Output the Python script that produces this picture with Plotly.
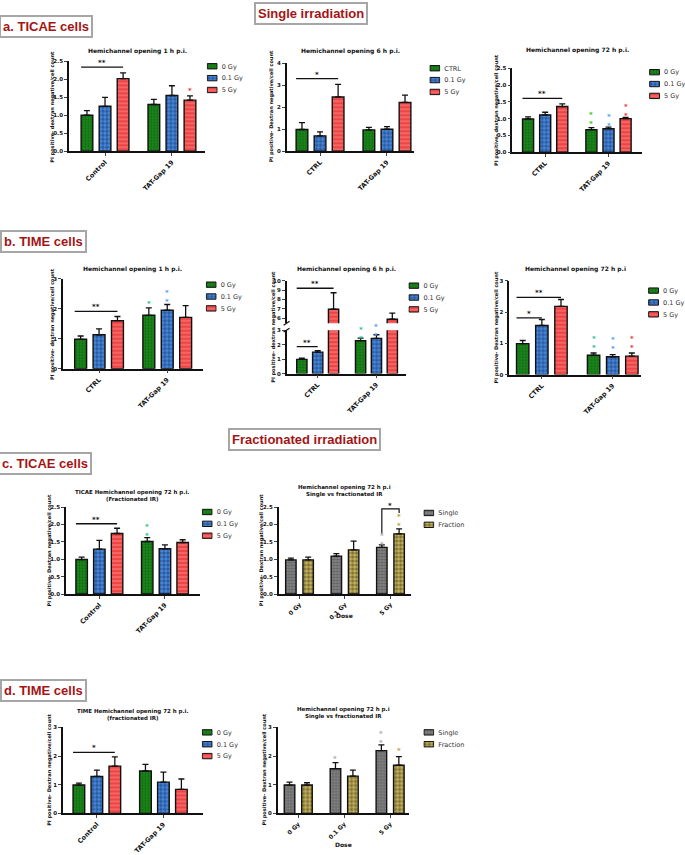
import plotly.graph_objects as go

W, H = 685, 855
FONT = "DejaVu Sans"

# ---- data -------------------------------------------------------------
dose_names = ["0 Gy", "0.1 Gy", "5 Gy"]
dose_names_ctrl = ["CTRL", "0.1 Gy", "5 Gy"]
ir_names = ["Single", "Fraction"]
groups_control = ["Control", "TAT-Gap 19"]
groups_ctrl = ["CTRL", "TAT-Gap 19"]
dose_groups = ["0 Gy", "0.1 Gy", "5 Gy"]

# one inner list per series (0 Gy, 0.1 Gy, 5 Gy), values per group
a1_mean = [[1.00, 1.30], [1.25, 1.55], [2.02, 1.42]]
a1_err = [[0.13, 0.14], [0.25, 0.27], [0.16, 0.12]]
a2_mean = [[0.99, 0.97], [0.70, 1.00], [2.47, 2.22]]
a2_err = [[0.31, 0.12], [0.18, 0.12], [0.57, 0.33]]
a3_mean = [[0.99, 0.67], [1.11, 0.70], [1.36, 1.00]]
a3_err = [[0.06, 0.06], [0.08, 0.05], [0.08, 0.04]]

b1_mean = [[0.98, 1.78], [1.13, 1.95], [1.60, 1.71]]
b1_err = [[0.11, 0.25], [0.20, 0.19], [0.14, 0.39]]
b2_mean = [[0.98, 2.27], [1.48, 2.43], [6.97, 5.90]]
b2_err = [[0.09, 0.18], [0.11, 0.25], [1.75, 0.65]]
b3_mean = [[0.99, 0.62], [1.57, 0.57], [2.18, 0.59]]
b3_err = [[0.10, 0.07], [0.19, 0.07], [0.22, 0.10]]

c1_mean = [[0.99, 1.51], [1.29, 1.30], [1.74, 1.48]]
c1_err = [[0.07, 0.11], [0.25, 0.11], [0.15, 0.08]]
# single / fraction, values per dose
c2_mean = [[0.98, 1.09, 1.34], [0.98, 1.27, 1.73]]
c2_err = [[0.05, 0.07, 0.07], [0.08, 0.25, 0.14]]

d1_mean = [[0.99, 1.48], [1.29, 1.09], [1.65, 0.84]]
d1_err = [[0.07, 0.23], [0.22, 0.35], [0.32, 0.36]]
d2_mean = [[0.99, 1.56, 2.19], [0.99, 1.30, 1.68]]
d2_err = [[0.10, 0.21, 0.20], [0.08, 0.21, 0.30]]

# significance lines: (group, first bar, last bar, height, label)
a1_sig = [(0, 0, 2, 2.34, "**")]
a2_sig = [(0, 0, 2, 3.30, "*")]
a3_sig = [(0, 0, 2, 1.60, "**")]
b1_sig = [(0, 0, 2, 1.91, "**")]
b2_sig_lo = [(0, 0, 1, 1.86, "**")]
b2_sig_hi = [(0, 0, 2, 9.20, "**")]
b3_sig = [(0, 0, 1, 1.81, "*"), (0, 0, 2, 2.47, "**")]
c1_sig = [(0, 0, 2, 2.02, "**")]
d1_sig = [(0, 0, 2, 2.13, "*")]

# coloured stars vs own control: (group, bar, height, count)
a1_stars = [(1, 2, 1.69, 1)]
a3_stars = [(1, 0, 1.00, 2), (1, 1, 0.95, 2), (1, 2, 1.25, 2)]
b1_stars = [(1, 0, 2.20, 1), (1, 1, 2.40, 2)]
b2_stars = [(1, 0, 2.78, 2), (1, 1, 2.95, 2)]
b3_stars = [(1, 0, 1.02, 2), (1, 1, 0.98, 2), (1, 2, 1.02, 2)]
c1_stars = [(1, 0, 1.82, 2)]
c2_stars = [(2, 0, 1.58, 2), (2, 1, 2.10, 2)]
d2_stars = [(1, 0, 1.93, 1), (2, 0, 2.65, 2), (2, 1, 2.20, 1)]

# ---- styles -----------------------------------------------------------
def bar_style(bg, fg, shape, size, solidity, lw=1.4):
    return dict(color=bg, line=dict(color="#111111", width=lw),
                pattern=dict(shape=shape, fgcolor=fg, size=size,
                             solidity=solidity, fillmode="overlay"))

PAT = [("#1b8a1b", "#0a4a0a", ".", 3, 0.45),
       ("#4a8be0", "#0c2a5c", ".", 4, 0.6),
       ("#ee4444", "#ffb4b4", "-", 4, 0.3)]
PAT_IR = [("#8a8a8a", "#3a3a3a", ".", 3, 0.5),
          ("#cdb85c", "#2a2818", ".", 4, 0.55)]
STYLES3 = [bar_style(*p) for p in PAT]
STYLES2 = [bar_style(*p) for p in PAT_IR]
KEY3 = [bar_style(*p, lw=1) for p in PAT]
KEY2 = [bar_style(*p, lw=1) for p in PAT_IR]

STAR_SINGLE = ["#22cc22", "#4d9ef0", "#ee3333"]
STAR_TIME = ["#1fbf86", "#4d9ef0", "#ee3333"]
STAR_IR = ["#aaaaaa", "#b8a040"]

OFF3, WID3 = [-0.27, 0.0, 0.27], 0.175
OFF2, WID2 = [-0.19, 0.19], 0.23

fig = go.Figure()
annotations = []
shapes = []


def ax_names(n):
    s = "" if n == 1 else str(n)
    return "x" + s, "y" + s, "xaxis" + s, "yaxis" + s


def add_panel(n, box, xr, groups, offsets, width, means, errs, names, styles,
              yr, tickvals, ticktext, show_x=True, sig=(), stars=(), star_colors=(),
              xtick_size=6.5):
    x0, x1, top, bot = box
    xa, ya, xkey, ykey = ax_names(n)
    for j, (m, e) in enumerate(zip(means, errs)):
        xs = [g + offsets[j] for g in range(len(groups))]
        fig.add_trace(go.Bar(
            x=xs, y=m, width=width, name=names[j], marker=styles[j],
            error_y=dict(type="data", array=e, arrayminus=[0] * len(e),
                         symmetric=False, color="#111111", thickness=1.3, width=3),
            xaxis=xa, yaxis=ya, showlegend=False,
        ))
    for g, b0, b1, h, lab in sig:
        xa0 = g + offsets[b0] - width / 2
        xb1 = g + offsets[b1]
        fig.add_trace(go.Scatter(x=[xa0, xb1], y=[h, h], mode="lines",
                                 line=dict(color="#111111", width=1.3),
                                 showlegend=False, hoverinfo="skip",
                                 xaxis=xa, yaxis=ya))
        annotations.append(dict(x=(xa0 + xb1) / 2, y=h, xref=xa, yref=ya, text=lab,
                                showarrow=False, yanchor="bottom", yshift=-2,
                                font=dict(size=7, family=FONT, color="#111111", weight="bold")))
    for g, b, h, cnt in stars:
        annotations.append(dict(x=g + offsets[b], y=h, xref=xa, yref=ya,
                                text="<br>".join(["*"] * cnt), showarrow=False,
                                yshift=-1,
                                font=dict(size=7, family=FONT, color=star_colors[b],
                                          weight="bold")))
    fig.layout[xkey] = dict(
        domain=[x0 / W, x1 / W], range=xr, anchor=ya, visible=show_x,
        tickvals=list(range(len(groups))), ticktext=groups, tickangle=-45,
        showline=True, linecolor="#111111", linewidth=1.5, ticks="outside",
        ticklen=3, tickwidth=1.2, showgrid=False, zeroline=False,
        tickfont=dict(size=xtick_size, family=FONT, color="#111111", weight="bold"),
    )
    fig.layout[ykey] = dict(
        domain=[1 - bot / H, 1 - top / H], range=yr, anchor=xa,
        tickvals=tickvals, ticktext=ticktext,
        showline=True, linecolor="#111111", linewidth=1.5, ticks="outside",
        ticklen=3, tickwidth=1.2, showgrid=False, zeroline=False,
        tickfont=dict(size=5.5, family=FONT, color="#111111", weight="bold"),
    )


def add_key(n, lx, ly, names, styles):
    # legend drawn as a small swatch column with the names as tick labels
    xa, ya, xkey, ykey = ax_names(n)
    rows = list(range(len(names)))
    for k in rows:
        fig.add_trace(go.Bar(x=[1], y=[k], orientation="h", width=0.45,
                             marker=styles[k], xaxis=xa, yaxis=ya,
                             showlegend=False, hoverinfo="skip"))
    fig.layout[xkey] = dict(domain=[lx / W, (lx + 11) / W], range=[-0.06, 1.06],
                            visible=False, anchor=ya)
    fig.layout[ykey] = dict(
        domain=[1 - (ly + 12 * len(names) - 6) / H, 1 - (ly - 6) / H],
        range=[len(names) - 0.5, -0.5], anchor=xa, side="right",
        tickvals=rows, ticktext=names, ticks="", showline=False, showgrid=False,
        zeroline=False, ticklabelstandoff=3,
        tickfont=dict(size=6.5, family=FONT, color="#333333"),
    )


def fmt1(vals):
    return ["%.1f" % v for v in vals]


half = [0, 0.5, 1.0, 1.5, 2.0, 2.5]
three = [0, 1, 2, 3]
upper = [6, 7, 8, 9, 10]

# a. TICAE single irradiation
add_panel(1, (69, 205, 59, 150), [-0.54, 1.49], groups_control, OFF3, WID3,
          a1_mean, a1_err, dose_names, STYLES3, [0, 2.5], half, fmt1(half),
          sig=a1_sig, stars=a1_stars, star_colors=STAR_SINGLE)
add_panel(2, (287, 415, 61, 150), [-0.5, 1.41], groups_ctrl, OFF3, WID3,
          a2_mean, a2_err, dose_names_ctrl, STYLES3, [0, 4], [0, 1, 2, 3, 4],
          ["0", "1", "2", "3", "4"], sig=a2_sig)
add_panel(3, (513, 643, 66, 151), [-0.52, 1.53], groups_ctrl, OFF3, WID3,
          a3_mean, a3_err, dose_names, STYLES3, [0, 2.5], half, fmt1(half),
          sig=a3_sig, stars=a3_stars, star_colors=STAR_SINGLE)

# b. TIME single irradiation (6 h panel has a broken y axis)
add_panel(4, (63, 203, 279, 370), [-0.53, 1.52], groups_ctrl, OFF3, WID3,
          b1_mean, b1_err, dose_names, STYLES3, [0, 3], three, [str(v) for v in three],
          sig=b1_sig, stars=b1_stars, star_colors=STAR_TIME)
add_panel(5, (287, 407, 331, 375), [-0.53, 1.51], groups_ctrl, OFF3, WID3,
          b2_mean, b2_err, dose_names, STYLES3, [0, 3], three, [str(v) for v in three],
          sig=b2_sig_lo, stars=b2_stars, star_colors=STAR_TIME)
add_panel(6, (287, 407, 281, 324), [-0.53, 1.51], groups_ctrl, OFF3, WID3,
          b2_mean, b2_err, dose_names, STYLES3, [5.48, 10], upper, [str(v) for v in upper],
          show_x=False, sig=b2_sig_hi)
add_panel(7, (510, 642, 281, 376), [-0.46, 1.4], groups_ctrl, OFF3, WID3,
          b3_mean, b3_err, dose_names, STYLES3, [0, 3], three, [str(v) for v in three],
          sig=b3_sig, stars=b3_stars, star_colors=STAR_TIME)

# c. TICAE fractionated
add_panel(8, (66, 200, 510, 598), [-0.51, 1.53], groups_control, OFF3, WID3,
          c1_mean, c1_err, dose_names, STYLES3, [0, 2.5], half, fmt1(half),
          sig=c1_sig, stars=c1_stars, star_colors=STAR_TIME)
add_panel(9, (279, 412, 510, 598), [-0.46, 2.46], dose_groups, OFF2, WID2,
          c2_mean, c2_err, ir_names, STYLES2, [0, 2.5], half, fmt1(half),
          stars=c2_stars, star_colors=STAR_IR, xtick_size=6)

# d. TIME fractionated
add_panel(10, (63, 203, 733, 820), [-0.51, 1.59], groups_control, OFF3, WID3,
          d1_mean, d1_err, dose_names, STYLES3, [0, 3], three, [str(v) for v in three],
          sig=d1_sig)
add_panel(11, (278, 410, 733, 820), [-0.45, 2.42], dose_groups, OFF2, WID2,
          d2_mean, d2_err, ir_names, STYLES2, [0, 3], three, [str(v) for v in three],
          stars=d2_stars, star_colors=STAR_IR, xtick_size=6)

# bracket single vs fraction at 5 Gy (panel c2)
bx = [2 + OFF2[0], 2 + OFF2[0], 2 + OFF2[1], 2 + OFF2[1]]
fig.add_trace(go.Scatter(x=bx, y=[1.74, 2.45, 2.45, 2.33], mode="lines",
                         line=dict(color="#111111", width=1.2), showlegend=False,
                         hoverinfo="skip", xaxis="x9", yaxis="y9"))
annotations.append(dict(x=2, y=2.45, xref="x9", yref="y9", text="*", showarrow=False,
                        yanchor="bottom", yshift=-3,
                        font=dict(size=7, family=FONT, color="#111111", weight="bold")))

# legends
add_key(12, 207, 64, dose_names, KEY3)
add_key(13, 430, 66, dose_names_ctrl, KEY3)
add_key(14, 650, 70, dose_names, KEY3)
add_key(15, 206, 285, dose_names, KEY3)
add_key(16, 409, 286, dose_names, KEY3)
add_key(17, 649, 291, dose_names, KEY3)
add_key(18, 202, 515, dose_names, KEY3)
add_key(19, 424, 516, ir_names, KEY2)
add_key(20, 202, 738, dose_names, KEY3)
add_key(21, 424, 738, ir_names, KEY2)

# axis break marks on panel b2
for yy in (324, 331):
    shapes.append(dict(type="line", xref="paper", yref="paper",
                       x0=284 / W, x1=290 / W, y0=1 - (yy + 2) / H, y1=1 - (yy - 2) / H,
                       line=dict(color="#111111", width=1.2)))

# ---- text -------------------------------------------------------------
def paper_text(txt, cx, cy, **kw):
    d = dict(x=cx / W, y=1 - cy / H, xref="paper", yref="paper", text=txt,
             showarrow=False, xanchor="center", yanchor="middle")
    d.update(kw)
    annotations.append(d)


titles = [
    ("Hemichannel opening 1 h p.i.", 138, 49),
    ("Hemichannel opening 6 h p.i.", 351, 49),
    ("Hemichannel opening 72 h p.i.", 578, 48),
    ("Hemichannel opening 1 h p.i.", 133, 269),
    ("Hemichannel opening 6 h p.i.", 347, 269),
    ("Hemichannel opening 72 h p.i", 576, 269),
    ("TICAE Hemichannel opening 72 h p.i.<br>(Fractionated IR)", 132, 498),
    ("Hemichannel opening 72 h p.i<br>Single vs fractionated IR", 345, 494),
    ("TIME Hemichannel opening 72 h p.i.<br>(fractionated IR)", 133, 720),
    ("Hemichannel opening 72 h p.i<br>Single vs fractionated IR", 344, 718),
]
for txt, cx, cy in titles:
    two = "<br>" in txt
    paper_text(txt, cx, cy, align="center",
               font=dict(size=5.5 if two else 6, family=FONT, color="#111111", weight="bold"))

ytitles = [
    ("PI positive- dextran negative/cell count", 53, 105),
    ("PI positive- Dextran negative/cell count", 272, 105),
    ("PI positive- dextran negative/cell count", 497, 108),
    ("PI positive- dextran negative/cell count", 52, 325),
    ("PI positive- dextran negative/cell count", 274, 328),
    ("PI positive- Dextran negative/cell count", 497, 328),
    ("PI positive- Dextran negative/cell count", 50, 554),
    ("PI positive- Dextran negative/cell count", 262, 554),
    ("PI positive- Dextran negative/cell count", 50, 776),
    ("PI positive- Dextran negative/cell count", 265, 776),
]
for txt, cx, cy in ytitles:
    paper_text(txt, cx, cy, textangle=-90,
               font=dict(size=5, family=FONT, color="#111111", weight="bold"))

for cx, cy in [(345, 620), (344, 851)]:
    paper_text("Dose", cx, cy, font=dict(size=6, family=FONT, color="#111111", weight="bold"))

headers = [
    ("a. TICAE cells", 46, 24),
    ("Single irradiation", 311, 11),
    ("b. TIME cells", 44, 241),
    ("Fractionated irradiation", 305, 442),
    ("c. TICAE cells", 45, 466),
    ("d. TIME cells", 44, 696),
]
for txt, cx, cy in headers:
    paper_text(txt, cx, cy, bgcolor="white", bordercolor="#a6a6a6",
               borderwidth=2, borderpad=2,
               font=dict(size=13, family="Liberation Sans", color="#a31515", weight="bold"))

fig.update_layout(
    width=W, height=H, margin=dict(l=0, r=0, t=0, b=0),
    paper_bgcolor="white", plot_bgcolor="white", barmode="overlay",
    showlegend=False, annotations=annotations, shapes=shapes,
)

fig.write_html("out.html", config={"displayModeBar": False},
               post_script="document.body.style.margin='0';")
